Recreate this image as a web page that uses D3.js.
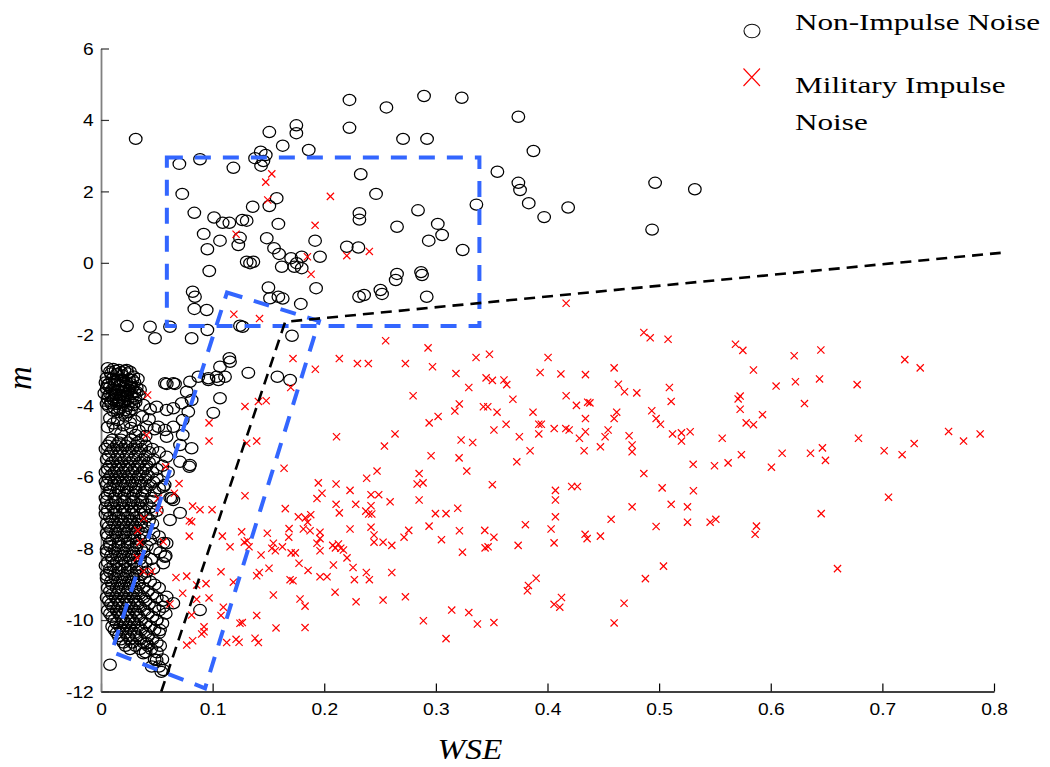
<!DOCTYPE html>
<html><head><meta charset="utf-8">
<script src="https://cdn.jsdelivr.net/npm/d3@7"></script>
<style>body{margin:0;background:#fff}svg{display:block}</style>
</head><body>
<svg id="chart" width="1050" height="767"></svg>
<script>
// ---------- data ----------
const xTicks = [0, 0.1, 0.2, 0.3, 0.4, 0.5, 0.6, 0.7, 0.8];
const xTickLabels = ["0", "0.1", "0.2", "0.3", "0.4", "0.5", "0.6", "0.7", "0.8"];
const yTicks = [-12, -10, -8, -6, -4, -2, 0, 2, 4, 6];
const yTickLabels = ["-12", "-10", "-8", "-6", "-4", "-2", "0", "2", "4", "6"];
const xLabel = "WSE";
const yLabel = "m";
const seriesNames = ["Non-Impulse Noise", "Military Impulse Noise"];

// Non-impulse noise: scattered points
const nonImpulseScatter = [
[0.0311,3.47],[0.0702,2.77],[0.0887,2.90],[0.0728,1.93],[0.1186,2.66],[0.1508,3.66],[0.175,3.85],[0.175,3.63],
[0.1628,3.28],[0.1861,3.16],[0.1431,3.11],[0.138,2.93],[0.1476,3.02],[0.1455,2.85],[0.1434,2.72],[0.2226,4.56],
[0.2226,3.78],[0.0836,1.40],[0.1013,1.27],[0.109,1.12],[0.115,1.12],[0.1266,1.20],[0.1305,1.18],[0.1359,1.57],
[0.1574,1.81],[0.1508,1.59],[0.1589,1.09],[0.092,0.81],[0.1066,0.62],[0.1245,0.70],[0.123,0.50],[0.1485,0.69],
[0.1918,0.62],[0.0953,0.38],[0.2202,0.45],[0.2557,4.35],[0.2894,4.67],[0.3232,4.62],[0.3739,4.09],[0.2706,3.47],
[0.2921,3.47],[0.3874,3.13],[0.3551,2.55],[0.3739,2.24],[0.3754,2.04],[0.3832,1.67],[0.397,1.28],[0.4185,1.55],
[0.4964,2.24],[0.532,2.06],[0.4937,0.93],[0.3363,1.63],[0.2327,2.48],[0.2464,1.93],[0.2315,1.39],[0.2315,1.21],
[0.284,1.47],[0.2652,1.01],[0.3017,1.09],[0.3056,0.78],[0.2936,0.62],[0.324,0.36],[0.2306,0.43],[0.1962,0.17],
[0.1798,0.17],[0.155,0.41],[0.1595,0.25],[0.1703,0.13],[0.1754,-0.01],[0.1798,-0.15],[0.1732,-0.11],[0.1305,0.03],
[0.1335,-0.01],[0.1365,0.03],[0.1619,-0.11],[0.1927,-0.71],[0.097,-0.23],[0.15,-0.69],[0.1514,-0.99],[0.1589,-0.95],
[0.1628,-1.00],[0.179,-1.15],[0.0821,-0.81],[0.0842,-0.95],[0.0836,-1.29],[0.0947,-1.32],[0.0618,-1.79],[0.0484,-2.11],
[0.0812,-2.11],[0.0953,-1.88],[0.1269,-1.79],[0.1711,-2.04],[0.0439,-1.79],[0.115,-2.67],[0.1066,-2.91],[0.1111,-3.19],
[0.1036,-3.19],[0.0962,-3.28],[0.0872,-3.19],[0.0797,-3.33],[0.0663,-3.39],[0.0589,-3.39],[0.1066,-3.79],[0.1006,-4.20],
[0.132,-3.08],[0.158,-3.19],[0.1694,-3.28],[0.1156,-2.77],[0.2312,-0.95],[0.2357,-0.90],[0.2503,-0.76],[0.2518,-0.87],
[0.264,-0.48],[0.2918,-0.95],[0.1245,-1.76],[0.2652,-0.31],[0.2867,-0.26],[0.2876,-0.34],[0.0233,-1.77],[0.1052,-3.28],
[0.0962,-3.23],[0.0768,-3.61],[0.0887,-9.72]
];

// Non-impulse noise: dense top block near m = -3 .. -4
const nonImpulseTopBlock = [
[0.006,-2.95],[0.011,-2.97],[0.016,-3.0],[0.021,-3.02],[0.026,-3.05],[0.009,-3.1],[0.014,-3.12],[0.019,-3.15],
[0.024,-3.1],[0.029,-3.18],[0.005,-3.22],[0.01,-3.25],[0.015,-3.28],[0.02,-3.3],[0.025,-3.26],[0.03,-3.35],
[0.007,-3.38],[0.012,-3.4],[0.017,-3.42],[0.022,-3.45],[0.027,-3.4],[0.032,-3.5],[0.005,-3.52],[0.01,-3.55],
[0.015,-3.57],[0.02,-3.6],[0.025,-3.55],[0.03,-3.62],[0.008,-3.66],[0.013,-3.68],[0.018,-3.7],[0.023,-3.72],
[0.028,-3.75],[0.006,-3.8],[0.011,-3.82],[0.016,-3.84],[0.021,-3.86],[0.026,-3.88],[0.031,-3.8],[0.009,-3.93],
[0.014,-3.95],[0.019,-3.97],[0.024,-4.0],[0.029,-3.98],[0.012,-4.06],[0.017,-4.08],[0.022,-4.12],[0.027,-4.1],
[0.015,-4.18],[0.02,-4.2],[0.013,-3.02],[0.018,-3.06],[0.023,-3.36],[0.008,-3.48],[0.019,-3.5],[0.014,-3.78],
[0.024,-3.64],[0.033,-3.25],[0.034,-3.7],[0.003,-3.65],[0.004,-3.35],[0.035,-3.55],[0.018,-3.32],[0.02,-3.9],
[0.01,-3.72],[0.028,-3.5],[0.007,-4.02],
[0.008,-3.05],[0.023,-3.0],[0.028,-3.28],[0.012,-3.32],[0.006,-3.42],[0.016,-3.46],[0.026,-3.46],[0.013,-3.6],
[0.022,-3.58],[0.032,-3.62],[0.007,-3.72],[0.027,-3.68],[0.019,-3.78],[0.009,-3.88],[0.024,-3.82],[0.016,-3.92],
[0.031,-3.9],[0.011,-4.14],[0.025,-4.18],[0.005,-3.95]
];

// Non-impulse noise: band near m = -4 .. -5 and its right fringe
const nonImpulseBand = [
[0.008,-4.35],[0.015,-4.4],[0.022,-4.3],[0.03,-4.42],[0.037,-4.3],[0.043,-4.38],[0.006,-4.6],[0.013,-4.65],
[0.02,-4.55],[0.027,-4.62],[0.034,-4.7],[0.041,-4.58],[0.048,-4.66],[0.0498,-4.03],[0.0588,-4.12],[0.0648,-4.07],
[0.0723,-3.93],[0.0812,-3.84],[0.0782,-4.17],[0.0732,-4.40],[0.0648,-4.59],[0.0573,-4.68],[0.0513,-4.59],[0.0588,-4.87],
[0.0732,-4.82],[0.0708,-5.10],[0.0812,-5.19],[0.0797,-5.66],[0.0573,-3.37],[0.0648,-3.37],[0.044,-4.1],[0.038,-3.98],
[0.011,-4.5],[0.026,-4.48],[0.018,-4.78],[0.031,-4.82],[0.040,-4.85]
];

// Non-impulse noise: main column m = -5 .. -11.5
const nonImpulseColumn = [
[0.010,-4.95],[0.018,-4.95],[0.027,-4.95],[0.036,-4.95],
[0.006,-5.12],[0.014,-5.12],[0.022,-5.12],[0.031,-5.12],[0.040,-5.12],
[0.009,-5.3],[0.017,-5.3],[0.025,-5.3],[0.034,-5.3],[0.043,-5.3],[0.052,-5.3],
[0.005,-5.5],[0.013,-5.5],[0.021,-5.5],[0.029,-5.5],[0.038,-5.5],[0.047,-5.5],
[0.008,-5.68],[0.016,-5.68],[0.024,-5.68],[0.033,-5.68],[0.041,-5.68],[0.055,-5.68],
[0.004,-5.86],[0.012,-5.86],[0.020,-5.86],[0.028,-5.86],[0.037,-5.86],[0.046,-5.86],[0.060,-5.86],
[0.007,-6.04],[0.015,-6.04],[0.023,-6.04],[0.032,-6.04],[0.040,-6.04],[0.050,-6.04],
[0.005,-6.22],[0.011,-6.22],[0.019,-6.22],[0.027,-6.22],[0.035,-6.22],[0.044,-6.22],[0.057,-6.22],
[0.008,-6.4],[0.016,-6.4],[0.024,-6.4],[0.031,-6.4],[0.039,-6.4],[0.048,-6.4],
[0.004,-6.58],[0.012,-6.58],[0.020,-6.58],[0.028,-6.58],[0.036,-6.58],[0.045,-6.58],[0.062,-6.58],
[0.009,-6.76],[0.017,-6.76],[0.025,-6.76],[0.033,-6.76],[0.041,-6.76],
[0.006,-6.94],[0.013,-6.94],[0.021,-6.94],[0.029,-6.94],[0.038,-6.94],[0.050,-6.94],
[0.008,-7.12],[0.016,-7.12],[0.024,-7.12],[0.032,-7.12],[0.040,-7.12],
[0.005,-7.3],[0.012,-7.3],[0.020,-7.3],[0.028,-7.3],[0.036,-7.3],[0.046,-7.3],
[0.009,-7.48],[0.017,-7.48],[0.025,-7.48],[0.033,-7.48],
[0.006,-7.66],[0.014,-7.66],[0.022,-7.66],[0.030,-7.66],[0.039,-7.66],[0.052,-7.66],
[0.008,-7.84],[0.016,-7.84],[0.024,-7.84],[0.032,-7.84],[0.056,-7.84],
[0.005,-8.02],[0.012,-8.02],[0.020,-8.02],[0.028,-8.02],[0.036,-8.02],[0.049,-8.02],
[0.009,-8.2],[0.017,-8.2],[0.025,-8.2],[0.033,-8.2],[0.058,-8.2],
[0.006,-8.38],[0.014,-8.38],[0.022,-8.38],[0.030,-8.38],[0.040,-8.38],
[0.008,-8.56],[0.016,-8.56],[0.024,-8.56],[0.032,-8.56],[0.047,-8.56],
[0.005,-8.74],[0.012,-8.74],[0.020,-8.74],[0.028,-8.74],[0.036,-8.74],
[0.009,-8.92],[0.017,-8.92],[0.025,-8.92],[0.033,-8.92],[0.044,-8.92],
[0.006,-9.1],[0.014,-9.1],[0.022,-9.1],[0.030,-9.1],[0.038,-9.1],[0.052,-9.1],
[0.010,-9.28],[0.018,-9.28],[0.026,-9.28],[0.034,-9.28],[0.046,-9.28],
[0.007,-9.46],[0.015,-9.46],[0.023,-9.46],[0.031,-9.46],[0.040,-9.46],[0.055,-9.46],
[0.011,-9.64],[0.019,-9.64],[0.027,-9.64],[0.035,-9.64],[0.048,-9.64],
[0.008,-9.82],[0.016,-9.82],[0.024,-9.82],[0.032,-9.82],[0.042,-9.82],[0.058,-9.82],
[0.012,-10.0],[0.020,-10.0],[0.028,-10.0],[0.036,-10.0],[0.050,-10.0],
[0.010,-10.18],[0.017,-10.18],[0.025,-10.18],[0.033,-10.18],[0.044,-10.18],
[0.014,-10.36],[0.022,-10.36],[0.030,-10.36],[0.040,-10.36],[0.052,-10.36],
[0.018,-10.54],[0.026,-10.54],[0.035,-10.54],[0.046,-10.54],
[0.022,-10.72],[0.031,-10.72],[0.042,-10.72],[0.053,-10.72],
[0.040,-10.9],[0.050,-10.9],[0.048,-11.1],[0.055,-11.1],[0.052,-11.3],[0.054,-11.45],
[0.0648,-6.64],[0.0708,-7.0],[0.0618,-7.2],[0.0588,-7.85],[0.0573,-8.23],[0.0558,-8.41],[0.0588,-9.35],
[0.0558,-9.63],[0.0648,-9.53],[0.0498,-10.0],[0.0529,-10.28],[0.0409,-10.65],[0.0379,-10.93],[0.0498,-11.12],
[0.0558,-11.4],[0.0454,-11.3],[0.0791,-5.71],[0.0708,-5.57],[0.0588,-5.43],[0.0558,-6.27],[0.0633,-6.59],
[0.0081,-11.25]
];

// Non-impulse noise: second, interleaved layer of the main column
const nonImpulseColumnFill = [
[0.008,-5.03],[0.016,-5.03],[0.024,-5.03],[0.033,-5.03],
[0.004,-5.21],[0.011,-5.21],[0.019,-5.21],[0.028,-5.21],[0.036,-5.21],[0.046,-5.21],
[0.007,-5.4],[0.015,-5.4],[0.023,-5.4],[0.031,-5.4],[0.040,-5.4],
[0.010,-5.59],[0.018,-5.59],[0.026,-5.59],[0.035,-5.59],[0.043,-5.59],
[0.006,-5.77],[0.014,-5.77],[0.022,-5.77],[0.030,-5.77],[0.039,-5.77],[0.050,-5.77],
[0.009,-5.95],[0.017,-5.95],[0.025,-5.95],[0.034,-5.95],[0.042,-5.95],
[0.004,-6.13],[0.012,-6.13],[0.020,-6.13],[0.028,-6.13],[0.036,-6.13],[0.047,-6.13],
[0.008,-6.31],[0.015,-6.31],[0.023,-6.31],[0.031,-6.31],[0.040,-6.31],[0.052,-6.31],
[0.006,-6.49],[0.013,-6.49],[0.021,-6.49],[0.029,-6.49],[0.037,-6.49],
[0.005,-6.67],[0.013,-6.67],[0.021,-6.67],[0.029,-6.67],[0.037,-6.67],[0.046,-6.67],
[0.004,-6.85],[0.011,-6.85],[0.019,-6.85],[0.027,-6.85],[0.035,-6.85],[0.044,-6.85],
[0.004,-7.03],[0.012,-7.03],[0.020,-7.03],[0.028,-7.03],[0.036,-7.03],[0.045,-7.03],
[0.010,-7.21],[0.018,-7.21],[0.026,-7.21],[0.034,-7.21],[0.043,-7.21],
[0.007,-7.39],[0.015,-7.39],[0.023,-7.39],[0.031,-7.39],[0.040,-7.39],
[0.005,-7.57],[0.013,-7.57],[0.021,-7.57],[0.029,-7.57],[0.037,-7.57],[0.047,-7.57],
[0.010,-7.75],[0.018,-7.75],[0.026,-7.75],[0.035,-7.75],[0.044,-7.75],
[0.008,-7.93],[0.016,-7.93],[0.024,-7.93],[0.032,-7.93],[0.041,-7.93],
[0.005,-8.11],[0.013,-8.11],[0.021,-8.11],[0.029,-8.11],[0.038,-8.11],[0.053,-8.11],
[0.010,-8.29],[0.018,-8.29],[0.026,-8.29],[0.035,-8.29],[0.045,-8.29],
[0.004,-8.47],[0.011,-8.47],[0.019,-8.47],[0.027,-8.47],[0.036,-8.47],
[0.008,-8.65],[0.016,-8.65],[0.024,-8.65],[0.032,-8.65],[0.041,-8.65],
[0.005,-8.83],[0.013,-8.83],[0.021,-8.83],[0.029,-8.83],[0.039,-8.83],
[0.010,-9.01],[0.018,-9.01],[0.026,-9.01],[0.034,-9.01],[0.048,-9.01],
[0.008,-9.19],[0.016,-9.19],[0.024,-9.19],[0.032,-9.19],[0.042,-9.19],
[0.005,-9.37],[0.013,-9.37],[0.021,-9.37],[0.029,-9.37],[0.038,-9.37],[0.050,-9.37],
[0.009,-9.55],[0.017,-9.55],[0.025,-9.55],[0.033,-9.55],[0.043,-9.55],
[0.006,-9.73],[0.014,-9.73],[0.022,-9.73],[0.030,-9.73],[0.039,-9.73],[0.052,-9.73],
[0.010,-9.91],[0.018,-9.91],[0.026,-9.91],[0.034,-9.91],[0.046,-9.91],
[0.014,-10.09],[0.022,-10.09],[0.030,-10.09],[0.040,-10.09],[0.055,-10.09],
[0.012,-10.27],[0.019,-10.27],[0.027,-10.27],[0.036,-10.27],[0.048,-10.27],
[0.016,-10.45],[0.024,-10.45],[0.032,-10.45],[0.042,-10.45],
[0.020,-10.63],[0.028,-10.63],[0.038,-10.63],[0.050,-10.63],
[0.026,-10.81],[0.035,-10.81],[0.045,-10.81]
];

// Military impulse noise
const impulsePoints = [
[0.1476,2.26],[0.153,2.49],[0.1494,1.76],[0.2055,1.86],[0.1918,1.05],[0.121,0.80],[0.1849,0.17],[0.2202,0.20],
[0.2404,0.32],[0.1882,-0.32],[0.119,-1.44],[0.142,-1.56],[0.4167,-1.13],
[0.255,-2.18],[0.293,-2.38],[0.172,-2.68],[0.2135,-2.68],[0.2297,-2.82],[0.2395,-2.82],[0.2727,-2.82],[0.297,-2.91],
[0.192,-2.98],[0.318,-3.10],[0.3295,-3.49],[0.170,-3.49],[0.2796,-3.72],[0.141,-3.88],[0.148,-3.86],[0.129,-4.02],
[0.321,-3.95],[0.317,-4.15],[0.302,-4.30],[0.294,-4.48],[0.0968,-4.48],[0.211,-4.87],[0.2634,-4.79],[0.2539,-5.13],
[0.0968,-4.99],[0.1305,-5.05],[0.1395,-4.99],[0.3226,-4.96],[0.2957,-5.40],[0.3208,-5.46],[0.164,-5.75],[0.2473,-5.83],
[0.285,-5.90],[0.3277,-5.83],[0.238,-6.03],
[0.4863,-1.95],[0.492,-2.10],[0.508,-2.14],[0.5684,-2.28],[0.575,-2.45],[0.336,-2.65],[0.348,-2.56],[0.4005,-2.65],
[0.4597,-2.94],[0.3934,-3.07],[0.412,-3.11],[0.434,-3.13],[0.345,-3.22],[0.3506,-3.29],[0.361,-3.28],[0.3635,-3.41],
[0.4635,-3.40],[0.469,-3.61],[0.48,-3.64],[0.5092,-3.49],[0.5108,-3.88],[0.369,-3.82],[0.4167,-3.72],[0.4259,-3.99],
[0.436,-3.90],[0.438,-3.92],[0.3426,-4.03],[0.3465,-4.03],[0.3548,-4.18],[0.387,-4.18],[0.462,-4.18],[0.4597,-4.36],
[0.434,-4.36],[0.4934,-4.14],[0.4973,-4.36],[0.5012,-4.52],[0.5708,-3.81],[0.5726,-3.73],[0.5726,-4.10],[0.578,-4.48],
[0.3629,-4.52],[0.352,-4.68],[0.3922,-4.52],[0.3945,-4.52],[0.406,-4.64],[0.4164,-4.64],[0.4194,-4.68],[0.434,-4.73],
[0.4543,-4.68],[0.3922,-4.79],[0.3748,-4.87],[0.4286,-4.91],[0.4516,-4.87],[0.4731,-4.84],[0.4758,-5.10],[0.4758,-5.29],
[0.512,-4.79],[0.52,-4.76],[0.5278,-4.73],[0.52,-4.99],[0.5565,-4.91],[0.333,-5.03],[0.3844,-5.26],[0.4328,-5.26],
[0.4474,-5.15],[0.3725,-5.57],[0.5305,-5.64],[0.5496,-5.68],[0.5618,-5.60],[0.5737,-5.37],[0.4863,-5.90],
[0.6449,-2.44],[0.621,-2.60],[0.5845,-3.00],[0.7201,-2.71],[0.7339,-2.94],[0.6048,-3.45],[0.6221,-3.33],[0.6437,-3.25],
[0.6774,-3.41],[0.6302,-3.94],[0.5926,-4.25],[0.5845,-4.53],[0.7593,-4.72],[0.7727,-4.99],[0.7876,-4.79],[0.6786,-4.91],
[0.7285,-5.06],[0.7016,-5.26],[0.7177,-5.37],[0.6463,-5.18],[0.649,-5.53],[0.6102,-5.33],[0.6356,-5.33],[0.6006,-5.72],
[0.1947,-6.16],[0.2106,-6.19],[0.2832,-6.19],[0.2885,-6.16],[0.129,-6.52],[0.198,-6.45],[0.1935,-6.60],[0.2231,-6.37],
[0.2419,-6.49],[0.2488,-6.49],[0.259,-6.69],[0.285,-6.64],[0.0821,-6.81],[0.0887,-6.91],[0.0995,-6.91],[0.1651,-6.88],
[0.2106,-6.76],[0.2135,-7.00],[0.2282,-6.76],[0.2419,-6.80],[0.2372,-6.95],[0.2398,-7.03],[0.2426,-7.03],[0.1768,-7.11],
[0.1831,-7.14],[0.1879,-7.05],[0.1851,-7.26],[0.2996,-7.02],[0.3091,-7.02],[0.3196,-6.87],[0.0812,-7.25],[0.1087,-7.65],
[0.126,-7.53],[0.1156,-7.95],[0.1284,-7.82],[0.131,-7.78],[0.1326,-7.95],[0.149,-7.57],[0.1685,-7.44],[0.1682,-7.68],
[0.1813,-7.45],[0.1873,-7.50],[0.1962,-7.54],[0.1962,-7.72],[0.1935,-7.85],[0.1962,-8.06],[0.2231,-7.45],[0.2419,-7.40],
[0.2446,-7.62],[0.2446,-7.82],[0.2527,-7.82],[0.2605,-7.91],[0.2715,-7.68],[0.2757,-7.49],[0.2939,-7.37],[0.305,-7.75],
[0.3211,-7.50],[0.3238,-8.10],[0.1544,-7.85],[0.153,-7.99],[0.1562,-8.06],[0.1625,-7.95],[0.1434,-8.18],[0.1703,-8.12],
[0.1741,-8.12],[0.2076,-7.91],[0.2127,-7.87],[0.2148,-7.99],[0.2172,-8.04],[0.21,-7.98],[0.2204,-8.26],[0.2082,-8.46],
[0.2258,-8.53],[0.1774,-8.41],[0.1855,-8.61],[0.2377,-8.67],[0.2605,-8.67],[0.227,-8.87],[0.2404,-8.87],[0.1962,-8.79],
[0.2025,-8.79],[0.1694,-8.87],[0.172,-8.90],[0.1505,-8.55],[0.1418,-8.67],[0.1395,-8.76],[0.1075,-8.65],[0.0941,-8.98],
[0.1186,-8.94],[0.0968,-9.38],[0.1544,-9.30],[0.1783,-9.41],[0.1828,-9.61],[0.2097,-9.22],[0.2285,-9.49],[0.2527,-9.44],
[0.2727,-9.35],[0.3142,-9.72],[0.3295,-9.79],[0.1096,-9.64],[0.1075,-9.87],[0.1395,-9.87],[0.1245,-10.09],[0.1266,-10.07],
[0.0923,-10.19],[0.0902,-10.39],[0.0821,-10.58],[0.1126,-10.63],[0.121,-10.54],[0.1237,-10.62],[0.138,-10.51],[0.141,-10.63],
[0.1568,-10.22],[0.1828,-10.21],[0.2888,-10.02],[0.3091,-10.52],[0.0812,-9.86],
[0.3506,-6.21],[0.4071,-6.37],[0.4071,-6.64],[0.4071,-7.11],[0.4217,-6.26],[0.4268,-6.26],[0.5027,-6.30],[0.5307,-6.38],
[0.4758,-6.83],[0.5108,-6.76],[0.5254,-6.83],[0.5254,-7.26],[0.5457,-7.26],[0.5508,-7.18],[0.4973,-7.38],[0.457,-7.18],
[0.3802,-7.33],[0.4032,-7.45],[0.4059,-7.84],[0.3438,-7.49],[0.352,-7.68],[0.3441,-7.98],[0.3468,-7.95],[0.3737,-7.91],
[0.4337,-7.60],[0.4355,-7.72],[0.4474,-7.65],[0.5039,-8.49],[0.4877,-8.84],[0.3898,-8.83],[0.3829,-9.03],[0.382,-9.18],
[0.4125,-9.37],[0.4059,-9.56],[0.411,-9.64],[0.4686,-9.53],[0.4597,-10.08],[0.3372,-10.11],[0.352,-10.07],
[0.7055,-6.56],[0.6452,-7.02],[0.5872,-7.37],[0.586,-7.60],[0.6598,-8.56],
[0.0418,-3.70],[0.0409,-4.82],[0.058,-5.71],[0.0699,-6.18],[0.0657,-6.45],[0.0513,-6.59],[0.0522,-6.92],[0.0383,-7.15],
[0.0791,-7.22],[0.0791,-7.65],[0.0329,-7.49],[0.0349,-7.82],[0.0558,-7.81],[0.0325,-8.26],[0.0379,-8.64],[0.0454,-8.64],
[0.0672,-8.81],[0.0768,-8.77],[0.0732,-9.25],[0.0857,-9.02],[0.0618,-9.55],[0.0857,-9.42],[0.0923,-10.33],[0.0768,-10.70]
];

// Decision boundary (black dashed) and region outlines (blue dashed)
const boundaryLine = [[0.054,-12],[0.165,-1.65],[0.806,0.28]];
const boxUpper = [[0.059,2.95],[0.339,2.95],[0.339,-1.77],[0.059,-1.77]];
const boxTilted = [[0.1129,-0.83],[0.1953,-1.63],[0.0932,-11.91],[0.0096,-10.89]];

// ---------- drawing ----------
const svg = d3.select("#chart");
svg.append("rect").attr("width",1050).attr("height",767).attr("fill","#fff");

const x = d3.scaleLinear().domain([0,0.8]).range([101,994]);
const y = d3.scaleLinear().domain([-12,6]).range([691.5,48.5]);
const SX = 1.2; // horizontal stretch of the original figure's text

// axes
const gx = svg.append("g").attr("transform",`translate(0,${y(-12)})`)
  .call(d3.axisBottom(x).tickValues(xTicks).tickFormat((d,i)=>xTickLabels[i]).tickSizeInner(-8).tickSizeOuter(0));
gx.select(".domain").attr("stroke","#000").attr("stroke-width",1.6);
gx.selectAll(".tick line").attr("stroke","#000").attr("stroke-width",1.2);
gx.selectAll(".tick text").attr("y",12).attr("dy","0.71em")
  .attr("font-family","'Liberation Sans', Arial, sans-serif").attr("font-size",16).attr("fill","#000")
  .attr("transform",`scale(${SX},1)`);

const gy = svg.append("g").attr("transform",`translate(${x(0)},0)`)
  .call(d3.axisLeft(y).tickValues(yTicks).tickFormat((d,i)=>yTickLabels[i]).tickSizeInner(-8).tickSizeOuter(0));
gy.select(".domain").attr("stroke","#808080").attr("stroke-width",1.8);
gy.selectAll(".tick line").attr("stroke","#333").attr("stroke-width",1.2);
gy.selectAll(".tick text").attr("x",-6).attr("dy","0.36em")
  .attr("font-family","'Liberation Sans', Arial, sans-serif").attr("font-size",16).attr("fill","#000")
  .attr("transform",`scale(${SX},1)`);

// axis titles
svg.append("text").attr("transform",`translate(470,759) scale(1.15,1)`).attr("text-anchor","middle")
  .attr("font-family","'Liberation Serif', 'Times New Roman', serif").attr("font-style","italic")
  .attr("font-size",29).text(xLabel);
svg.append("text").attr("transform",`translate(31,378) rotate(-90)`).attr("text-anchor","middle")
  .attr("font-family","'Liberation Serif', 'Times New Roman', serif").attr("font-style","italic")
  .attr("font-size",33).text(yLabel);

// markers
const nonImpulse = nonImpulseScatter.concat(nonImpulseTopBlock, nonImpulseBand, nonImpulseColumn, nonImpulseColumnFill);
svg.append("g").selectAll("ellipse").data(nonImpulse).join("ellipse")
  .attr("cx",d=>x(d[0])).attr("cy",d=>y(d[1])).attr("rx",6.3).attr("ry",5.6)
  .attr("fill","none").attr("stroke","#000").attr("stroke-width",1.25);

const cr = 3.6;
svg.append("g").selectAll("path").data(impulsePoints).join("path")
  .attr("d",d=>{const cx=x(d[0]), cy=y(d[1]);
    return `M${cx-cr},${cy-cr}L${cx+cr},${cy+cr}M${cx-cr},${cy+cr}L${cx+cr},${cy-cr}`;})
  .attr("fill","none").attr("stroke","#ff0000").attr("stroke-width",1.2);

// lines
const lineGen = d3.line().x(d=>x(d[0])).y(d=>y(d[1]));
svg.append("path").attr("d",lineGen(boxUpper)+"Z").attr("fill","none")
  .attr("stroke","#3366ff").attr("stroke-width",4).attr("stroke-dasharray","16,12");
svg.append("path").attr("d",lineGen(boxTilted)+"Z").attr("fill","none")
  .attr("stroke","#3366ff").attr("stroke-width",4).attr("stroke-dasharray","16,12");
svg.append("path").attr("d",lineGen(boundaryLine)).attr("fill","none")
  .attr("stroke","#000").attr("stroke-width",2.6).attr("stroke-dasharray","11,7");

// legend
const lg = svg.append("g");
lg.append("ellipse").attr("cx",752).attr("cy",31).attr("rx",8).attr("ry",6.8)
  .attr("fill","none").attr("stroke","#111").attr("stroke-width",1.1);
lg.append("path").attr("d","M743.5,68.5L760,86M743.5,86L760,68.5").attr("stroke","#ff0000").attr("stroke-width",1.1).attr("fill","none");
const legendLines = [[seriesNames[0],30],["Military Impulse",93],["Noise",130]];
legendLines.forEach(([t,by])=>{
  lg.append("text").attr("transform",`translate(795,${by}) scale(1.3,1)`)
    .attr("font-family","'Liberation Serif', 'Times New Roman', serif").attr("font-size",24).attr("fill","#000").text(t);
});
</script>
</body></html>
